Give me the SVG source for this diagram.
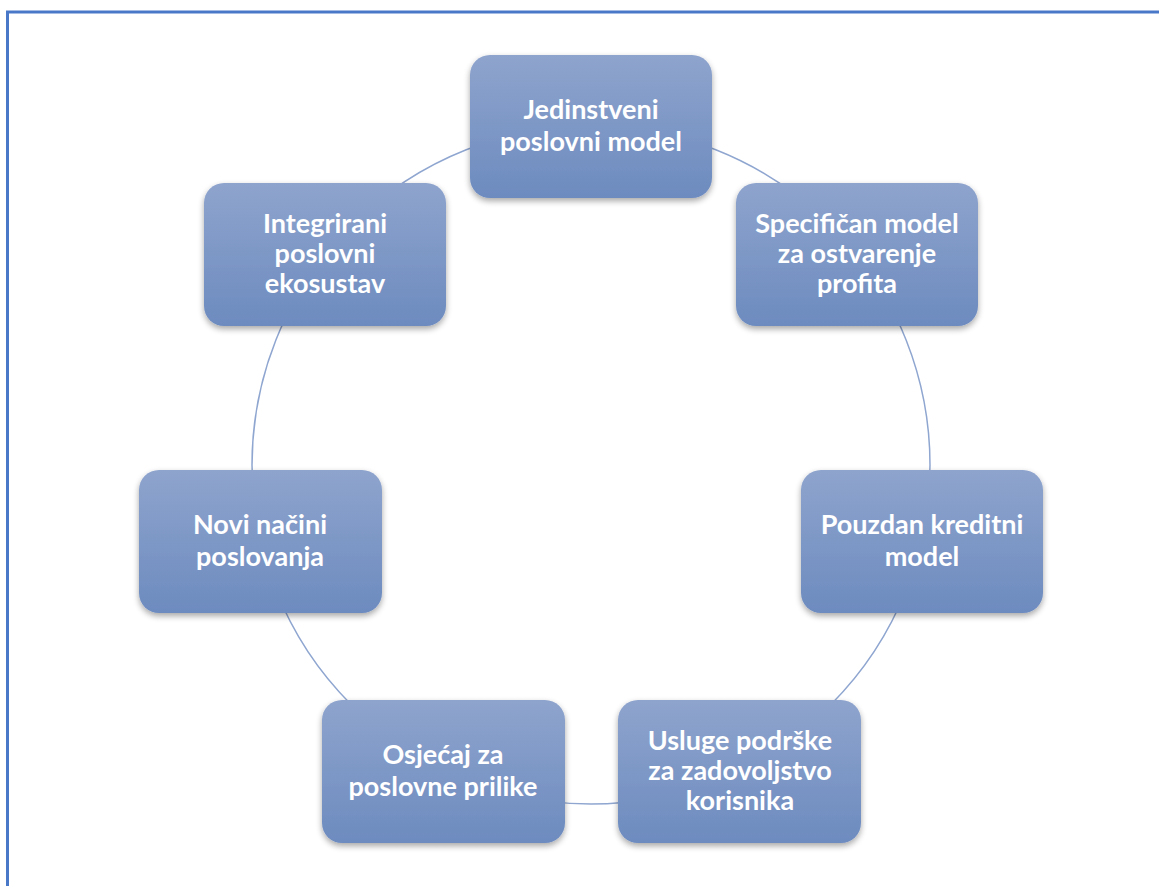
<svg xmlns="http://www.w3.org/2000/svg" width="1159" height="886" viewBox="0 0 1159 886">
<defs>
<linearGradient id="g" x1="0" y1="0" x2="0" y2="1">
<stop offset="0" stop-color="#8EA4CD"/>
<stop offset="1" stop-color="#6D8BBF"/>
</linearGradient>
<filter id="sh" x="-10%" y="-10%" width="120%" height="130%">
<feGaussianBlur in="SourceAlpha" stdDeviation="3"/>
<feOffset dx="0" dy="3" result="b"/>
<feComponentTransfer><feFuncA type="linear" slope="0.35"/></feComponentTransfer>
<feMerge><feMergeNode/><feMergeNode in="SourceGraphic"/></feMerge>
</filter>
</defs>
<style>
.box{fill:url(#g);filter:url(#sh)}
.t{font-family:Lato,"Open Sans",sans-serif;font-weight:bold;font-size:27px;fill:#ffffff;text-anchor:middle}
.ring{fill:none;stroke:#8FA6D0;stroke-width:1.5}
</style>
<rect x="0" y="0" width="1159" height="886" fill="#ffffff"/>
<rect x="7.5" y="12" width="1200" height="1000" fill="none" stroke="#4A78C8" stroke-width="3"/>
<g id="connectors">
<circle class="ring" cx="591" cy="465" r="339"/>
</g>
<g id="n1"><rect class="box" x="470" y="55" width="242" height="143" rx="20"/><text class="t" x="591" y="119">Jedinstveni</text><text class="t" x="591" y="151">poslovni model</text></g>
<g id="n2"><rect class="box" x="736" y="183" width="242" height="143" rx="20"/><text class="t" x="857" y="233">Specifičan model</text><text class="t" x="857" y="263">za ostvarenje</text><text class="t" x="857" y="293">profita</text></g>
<g id="n3"><rect class="box" x="801" y="470" width="242" height="143" rx="20"/><text class="t" x="922" y="534">Pouzdan kreditni</text><text class="t" x="922" y="566">model</text></g>
<g id="n4"><rect class="box" x="618" y="700" width="243" height="143" rx="20"/><text class="t" x="740" y="750">Usluge podrške</text><text class="t" x="740" y="780">za zadovoljstvo</text><text class="t" x="740" y="810">korisnika</text></g>
<g id="n5"><rect class="box" x="322" y="700" width="243" height="143" rx="20"/><text class="t" x="443" y="764">Osjećaj za</text><text class="t" x="443" y="796">poslovne prilike</text></g>
<g id="n6"><rect class="box" x="139" y="470" width="243" height="143" rx="20"/><text class="t" x="260" y="534">Novi načini</text><text class="t" x="260" y="566">poslovanja</text></g>
<g id="n7"><rect class="box" x="204" y="183" width="242" height="143" rx="20"/><text class="t" x="325" y="233">Integrirani</text><text class="t" x="325" y="263">poslovni</text><text class="t" x="325" y="293">ekosustav</text></g>
</svg>
